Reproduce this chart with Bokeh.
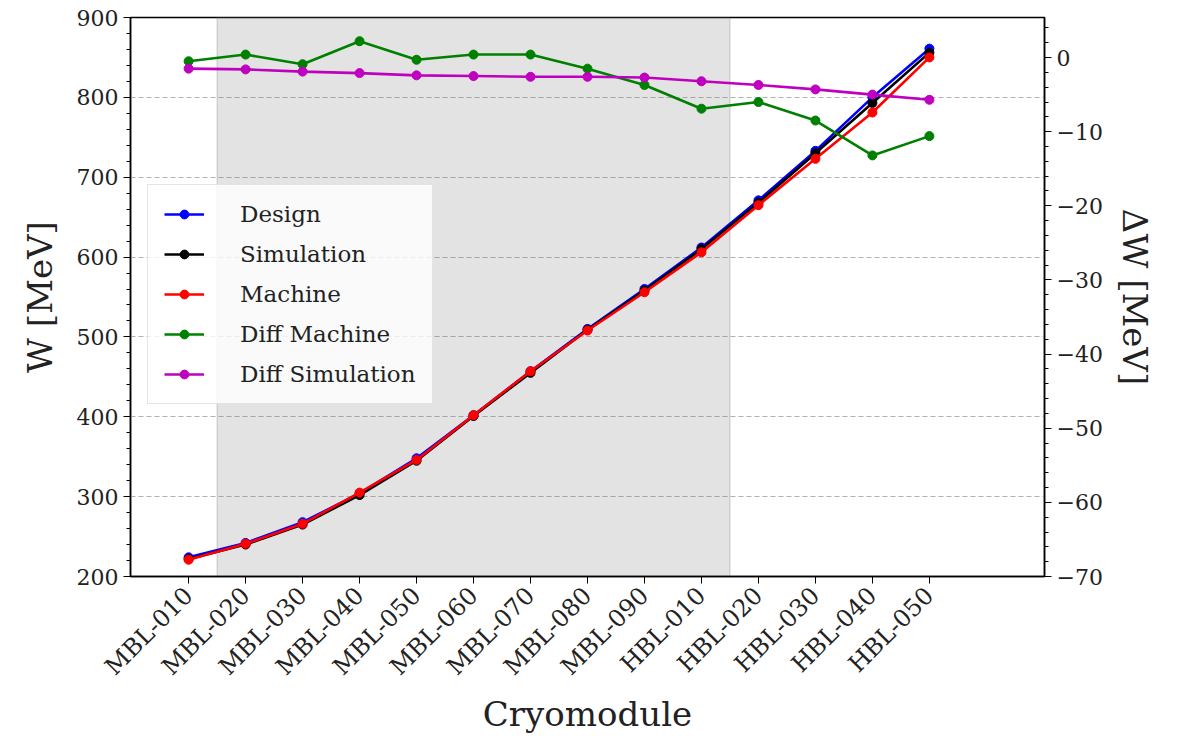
from bokeh.plotting import figure
from bokeh.models import (Range1d, LinearAxis, FixedTicker, BoxAnnotation, Legend, LegendItem)
from bokeh.embed import file_html
from bokeh.resources import INLINE
import math

cryomodules = ["MBL-010", "MBL-020", "MBL-030", "MBL-040", "MBL-050", "MBL-060", "MBL-070",
               "MBL-080", "MBL-090", "HBL-010", "HBL-020", "HBL-030", "HBL-040", "HBL-050"]
design = [224, 242, 268, 304, 348, 402, 457, 510, 560, 612, 671, 733, 800, 861]
simulation = [222, 240, 265, 302, 345, 401, 455, 509, 558, 610, 668, 730, 793, 856]
machine = [221, 241, 266, 305, 346, 402, 457, 508, 556, 606, 665, 723, 781, 850]
diff_machine = [-0.5, 0.4, -0.9, 2.2, -0.3, 0.4, 0.4, -1.5, -3.7, -6.9, -6.0, -8.5, -13.2, -10.6]
diff_simulation = [-1.5, -1.6, -1.9, -2.1, -2.4, -2.5, -2.6, -2.6, -2.7, -3.2, -3.7, -4.3, -5.0, -5.7]

left_ticks = [200, 300, 400, 500, 600, 700, 800, 900]
right_ticks = [0, -10, -20, -30, -40, -50, -60, -70]

xs = list(range(len(cryomodules)))
FONT = "DejaVu Serif"

p = figure(width=1170, height=742, output_backend="svg", toolbar_location=None,
           x_range=Range1d(-1.02, 15.02), y_range=Range1d(200, 900),
           min_border_left=130, min_border_right=126, min_border_top=17, min_border_bottom=166)
p.extra_y_ranges = {"dw": Range1d(-70, 5.4)}

p.outline_line_color = "black"
p.outline_line_width = 1.5
p.background_fill_color = "white"
p.border_fill_color = "white"

p.xgrid.visible = False
p.ygrid.grid_line_color = "#b0b0b0"
p.ygrid.grid_line_dash = "5 3"
p.ygrid.grid_line_width = 1.2

band = BoxAnnotation(left=0.5, right=9.5, fill_color="gray", fill_alpha=0.22,
                     line_color="gray", line_alpha=0.25, line_width=1.5, level="underlay")
p.add_layout(band)

# x axis
xa = p.xaxis[0]
xa.ticker = FixedTicker(ticks=xs)
xa.major_label_overrides = {i: c for i, c in enumerate(cryomodules)}
xa.major_label_orientation = math.pi / 4
xa.axis_label = "Cryomodule"

# left axis
ya = p.yaxis[0]
ya.ticker = FixedTicker(ticks=left_ticks, minor_ticks=list(range(200, 901, 20)))
ya.axis_label = "W [MeV]"

# right axis
ra = LinearAxis(y_range_name="dw", axis_label="ΔW [MeV]")
ra.ticker = FixedTicker(ticks=right_ticks, minor_ticks=list(range(-70, 6, 2)))
ra.major_label_overrides = {t: (str(t).replace("-", "\u2212")) for t in right_ticks}
p.add_layout(ra, "right")

for ax in [xa, ya, ra]:
    ax.axis_line_color = "black"
    ax.axis_line_width = 1.5
    ax.major_tick_line_color = "black"
    ax.minor_tick_line_color = "black"
    ax.major_tick_out = 7
    ax.major_tick_in = 0
    ax.minor_tick_out = 4
    ax.minor_tick_in = 0
    ax.major_label_text_font = FONT
    ax.major_label_text_font_size = "22px"
    ax.major_label_text_color = "#222222"
    ax.axis_label_text_font = FONT
    ax.axis_label_text_font_size = "34px"
    ax.axis_label_text_font_style = "normal"
    ax.axis_label_text_color = "#222222"
xa.major_label_text_font_size = "24px"
xa.minor_tick_out = 0
xa.major_label_standoff = 8
xa.axis_label_standoff = 0
ya.axis_label_standoff = 14
ra.axis_label_standoff = 9

series = [
    ("Design", design, "#0000ff", "default"),
    ("Simulation", simulation, "#000000", "default"),
    ("Machine", machine, "#ff0000", "default"),
    ("Diff Machine", diff_machine, "#008000", "dw"),
    ("Diff Simulation", diff_simulation, "#bf00bf", "dw"),
]
items = []
for name, vals, col, rng in series:
    l = p.line(xs, vals, line_color=col, line_width=2.6, y_range_name=rng)
    s = p.scatter(xs, vals, marker="circle", size=9, fill_color=col, line_color=col,
                  y_range_name=rng)
    items.append(LegendItem(label=name, renderers=[l, s]))

legend = Legend(items=items, location=(17, 172))
legend.label_text_font = FONT
legend.label_text_font_size = "23px"
legend.label_text_color = "#222222"
legend.glyph_width = 40
legend.glyph_height = 22
legend.label_standoff = 36
legend.spacing = 14
legend.padding = 16
legend.margin = 0
legend.background_fill_color = "white"
legend.background_fill_alpha = 0.8
legend.border_line_color = "#cccccc"
legend.border_line_width = 1.2
p.add_layout(legend, "center")

open("out.html", "w").write(file_html(p, INLINE))
